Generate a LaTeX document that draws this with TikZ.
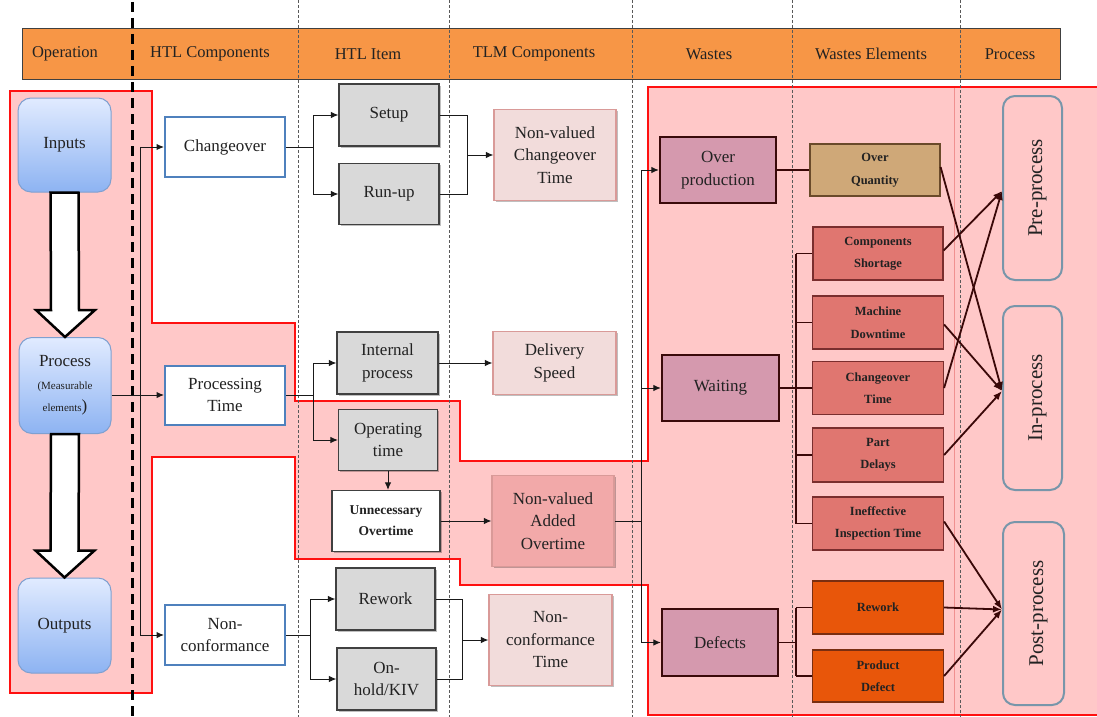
\documentclass[tikz,border=0pt]{standalone}
\usepackage{fontspec}
\setmainfont{Liberation Serif}
\usetikzlibrary{arrows.meta,shadows,calc}
\definecolor{orangeH}{HTML}{F79646}
\definecolor{pinkBg}{HTML}{FFC8C8}
\definecolor{redB}{HTML}{FF1010}
\definecolor{opTop}{HTML}{E1EBFF}
\definecolor{opBot}{HTML}{8DB3F2}
\definecolor{opDraw}{HTML}{7FA0D0}
\definecolor{htlB}{HTML}{4F81BD}
\definecolor{grayF}{HTML}{D9D9D9}
\definecolor{grayD}{HTML}{404040}
\definecolor{tlmF}{HTML}{F2DCDB}
\definecolor{tlmD}{HTML}{D99A98}
\definecolor{nvaoF}{HTML}{F2A9A9}
\definecolor{wasteF}{HTML}{D599AE}
\definecolor{wasteD}{HTML}{3A0A0A}
\definecolor{oqF}{HTML}{CFA878}
\definecolor{oqD}{HTML}{6A4A2A}
\definecolor{elF}{HTML}{E07670}
\definecolor{elD}{HTML}{7A2E2E}
\definecolor{orF}{HTML}{E8560A}
\definecolor{orD}{HTML}{7A2E10}
\definecolor{procD}{HTML}{7896AA}
\definecolor{txt}{HTML}{222222}
\definecolor{dk}{HTML}{3A0808}
\definecolor{faint}{HTML}{F09090}
\tikzset{
  sz/.style 2 args={minimum width=#1pt,minimum height=#2pt},
  base/.style={draw,inner sep=1pt,align=center,text=txt,font=\fontsize{17}{22.5}\selectfont},
  hdrtext/.style={text=txt,font=\fontsize{16.5}{20}\selectfont},
  shd/.style={drop shadow={shadow xshift=1.5pt,shadow yshift=-1.5pt,opacity=0.25,fill=black}},
  opbox/.style={base,rounded corners=13pt,top color=opTop,bottom color=opBot,draw=opDraw,line width=1pt},
  htlc/.style={base,fill=white,draw=htlB,line width=2pt},
  gbox/.style={base,fill=grayF,draw=grayD,line width=1.2pt,shd},
  wbox/.style={base,fill=white,draw=grayD,line width=1.2pt,shd,font=\fontsize{13.5}{21}\selectfont\bfseries},
  tlm/.style={base,fill=tlmF,draw=tlmD,line width=1.2pt,shd},
  waste/.style={base,fill=wasteF,draw=wasteD,line width=2.4pt},
  elem/.style={base,fill=elF,draw=elD,line width=1.2pt,font=\fontsize{12.5}{22.5}\selectfont\bfseries},
  procbox/.style={base,rounded corners=12pt,draw=procD,line width=2pt,font=\fontsize{21}{22}\selectfont},
  ln/.style={draw=black!90,line width=1pt},
  arr/.style={ln,-{Latex[length=7.5pt,width=6.5pt]}},
  dln/.style={draw=dk,line width=1.2pt},
  darr/.style={draw=dk,line width=1.8pt,-{Latex[length=9pt,width=7pt]}},
  thindash/.style={draw=black!65,line width=1pt,dash pattern=on 3pt off 2pt},
  blockarr/.style={fill=white,draw=black,line width=2.5pt,line join=miter}
}
\begin{document}
\begin{tikzpicture}[x=1pt,y=-1pt]
\useasboundingbox (0,0) rectangle (1097,717);
% highlighted region
\fill[pinkBg] (10,91) -- (152,91) -- (152,323) -- (295,323) -- (295,401) -- (460,401) -- (460,461) -- (648,461) -- (648,87) -- (1097,87) -- (1097,715) -- (648,715) -- (648,585) -- (460,585) -- (460,559) -- (295,559) -- (295,457) -- (152,457) -- (152,693) -- (10,693) -- cycle;
\draw[faint,line width=0.6pt] (954,88) -- (954,714);
\draw[redB,line width=2.4pt,line join=miter] (10,91) -- (152,91) -- (152,323) -- (295,323) -- (295,401) -- (460,401) -- (460,461) -- (648,461) -- (648,87) -- (1098,87);
\draw[redB,line width=2.4pt,line join=miter] (1098,715) -- (648,715) -- (648,585) -- (460,585) -- (460,559) -- (295,559) -- (295,457) -- (152,457) -- (152,693) -- (10,693) -- (10,90);
% header band
\draw[fill=orangeH,draw=grayD,line width=1pt] (22,29) rectangle (1060,79);
\node[hdrtext] (h1) at (65,54) {Operation};
\node[hdrtext] (h2) at (210,54) {HTL Components};
\node[hdrtext] (h3) at (368,54) {HTL Item};
\node[hdrtext] (h4) at (534,54) {TLM Components};
\node[hdrtext] (h5) at (709,54) {Wastes};
\node[hdrtext] (h6) at (871,54) {Wastes Elements};
\node[hdrtext] (h7) at (1010,54) {Process};
% column separators
\draw[black,line width=3pt,dash pattern=on 10pt off 6pt] (132,2) -- (132,717);
\foreach \xx in {298,449,632,792,960} {\draw[thindash] (\xx,0) -- (\xx,717);}
% Operation column
\node[opbox,sz={93}{94}] (inputs) at (64.5,145) {Inputs};
\node[opbox,sz={92}{96}] (opproc) at (65,385.5) {Process\\{\fontsize{11}{22.5}\selectfont(Measurable}\\{\fontsize{11}{22.5}\selectfont elements}{)}};
\node[opbox,sz={93}{95}] (outputs) at (64.5,625.5) {Outputs};
% HTL components
\node[htlc,sz={120}{60}] (chg) at (225,147) {Changeover};
\node[htlc,sz={120}{59}] (ptime) at (225,395) {Processing\\Time};
\node[htlc,sz={120}{60}] (ncf) at (225,635) {Non-\\conformance};
% HTL items
\node[gbox,sz={100}{62}] (setup) at (389,115) {Setup};
\node[gbox,sz={100}{61}] (runup) at (389,194) {Run-up};
\node[gbox,sz={101}{62}] (intp) at (387.5,363) {Internal\\process};
\node[gbox,sz={99}{61}] (optime) at (388,440) {Operating\\time};
\node[wbox,sz={108}{61}] (unov) at (386,521) {Unnecessary\\Overtime};
\node[gbox,sz={99}{62}] (rework) at (385.5,599) {Rework};
\node[gbox,sz={99}{62}] (onhold) at (386.5,679) {On-\\hold/KIV};
% TLM components
\node[tlm,sz={122}{91}] (nvct) at (555,155) {Non-valued\\Changeover\\Time};
\node[tlm,sz={123}{63}] (dspeed) at (554.5,363) {Delivery\\Speed};
\node[tlm,fill=nvaoF,sz={122}{91}] (nvao) at (553,521) {Non-valued\\Added\\Overtime};
\node[tlm,sz={123}{91}] (ncft) at (550.5,640) {Non-\\conformance\\Time};
% Wastes
\node[waste,sz={116}{66}] (overprod) at (718,170) {Over\\production};
\node[waste,sz={117}{66}] (waiting) at (720.5,388) {Waiting};
\node[waste,sz={116}{67}] (defects) at (720,642.5) {Defects};
% Wastes elements
\node[elem,fill=oqF,draw=oqD,sz={130}{52}] (oq) at (875,170) {Over\\Quantity};
\node[elem,sz={130}{53}] (cs) at (878,253.5) {Components\\Shortage};
\node[elem,sz={131}{53}] (md) at (878,322.5) {Machine\\Downtime};
\node[elem,sz={131}{53}] (cot) at (878,388) {Changeover\\Time};
\node[elem,sz={131}{54}] (pdl) at (878,455) {Part\\Delays};
\node[elem,sz={131}{53}] (iit) at (878,523.5) {Ineffective\\Inspection Time};
\node[elem,fill=orF,draw=orD,sz={131}{53}] (rwk) at (878,607.5) {Rework};
\node[elem,fill=orF,draw=orD,sz={131}{52}] (pdf) at (878,676) {Product\\Defect};
% Process column
\node[procbox,sz={59}{184}] (prep) at (1032.5,188) {\hspace*{10pt}\rotatebox{90}{Pre-process}};
\node[procbox,sz={59}{184}] (inp) at (1032.5,398) {\hspace*{10pt}\rotatebox{90}{In-process}};
\node[procbox,sz={61}{183}] (postp) at (1033.5,613.5) {\hspace*{10pt}\rotatebox{90}{Post-process}};
% block arrows between operation boxes
\draw[blockarr] ($(inputs.south)+(-14,0)$) -- ($(inputs.south)+(14,0)$) -- ($(opproc.north)+(14,-27)$) -- ($(opproc.north)+(30,-27)$) -- (opproc.north) -- ($(opproc.north)+(-29,-27)$) -- ($(opproc.north)+(-14,-27)$) -- cycle;
\draw[blockarr] ($(opproc.south)+(-14,0)$) -- ($(opproc.south)+(14,0)$) -- ($(outputs.north)+(14,-27)$) -- ($(outputs.north)+(30,-27)$) -- (outputs.north) -- ($(outputs.north)+(-29,-27)$) -- ($(outputs.north)+(-14,-27)$) -- cycle;
% left feeder line
\coordinate (lv1) at (140,147);
\coordinate (lv2) at (140,635);
\draw[ln] (lv1) -- (lv2);
\draw[arr] (lv1) -- (chg.west);
\draw[arr] (lv2) -- (ncf.west);
\draw[arr] (opproc.east |- ptime.west) -- (ptime.west);
% changeover fork
\coordinate (f1) at (313,147);
\draw[ln] (chg.east) -- (f1);
\draw[arr] (f1) |- (setup.west);
\draw[arr] (f1) |- (runup.west);
\coordinate (m1) at (467,155);
\draw[ln] (setup.east) -| (m1);
\draw[ln] (runup.east) -| (m1);
\draw[arr] (m1) -- (nvct.west);
% processing time fork
\coordinate (f2) at (313,395);
\draw[ln] (ptime.east) -- (f2);
\draw[arr] (f2) |- (intp.west);
\draw[arr] (f2) |- (optime.west);
\draw[arr] (optime.south) -- (optime.south |- unov.north);
\draw[arr] (intp.east) -- (dspeed.west);
\draw[arr] (unov.east) -- (nvao.west);
% non-conformance fork
\coordinate (f3) at (310,635);
\draw[ln] (ncf.east) -- (f3);
\draw[arr] (f3) |- (rework.west);
\draw[arr] (f3) |- (onhold.west);
\coordinate (m3) at (462,640);
\draw[ln] (rework.east) -| (m3);
\draw[ln] (onhold.east) -| (m3);
\draw[arr] (m3) -- (ncft.west);
% feeder to wastes
\coordinate (wt1) at (641,170);
\coordinate (wt2) at (641,388);
\coordinate (wt4) at (641,521);
\coordinate (wt3) at (641,642.5);
\draw[ln] (wt1) -- (wt3);
\draw[ln] (nvao.east) -- (wt4);
\draw[arr] (wt1) -- (overprod.west);
\draw[arr] (wt2) -- (waiting.west);
\draw[arr] (wt3) -- (defects.west);
% wastes to elements
\draw[dln] (overprod.east) -- (oq.west);
\draw[dln] (waiting.east) -- (cot.west);
\coordinate (v1) at (796,253.5);
\coordinate (v2) at (796,523.5);
\draw[dln] (v1) -- (v2);
\draw[dln] (v1) -- (cs.west);
\draw[dln] (v1 |- md.west) -- (md.west);
\draw[dln] (v1 |- pdl.west) -- (pdl.west);
\draw[dln] (v2) -- (iit.west);
\coordinate (d0) at (796,642.5);
\draw[dln] (defects.east) -- (d0);
\draw[dln] (d0 |- rwk.west) -- (d0 |- pdf.west);
\draw[dln] (d0 |- rwk.west) -- (rwk.west);
\draw[dln] (d0 |- pdf.west) -- (pdf.west);
% elements to process phases
\coordinate (tpre) at ($(prep.west)+(0,3)$);
\coordinate (tin) at ($(inp.west)+(0,-7)$);
\coordinate (tpost) at ($(postp.west)+(0,-4)$);
\draw[darr] ($(oq.east)+(0,-3)$) -- (tin);
\draw[darr] ($(cs.east)+(0,-3)$) -- (tpre);
\draw[darr] ($(md.east)+(0,2)$) -- (tin);
\draw[darr] (cot.east) -- (tpre);
\draw[darr] (pdl.east) -- (tin);
\draw[darr] ($(iit.east)+(0,-2)$) -- (tpost);
\draw[darr] (rwk.east) -- (tpost);
\draw[darr] (pdf.east) -- (tpost);
\end{tikzpicture}
\end{document}
